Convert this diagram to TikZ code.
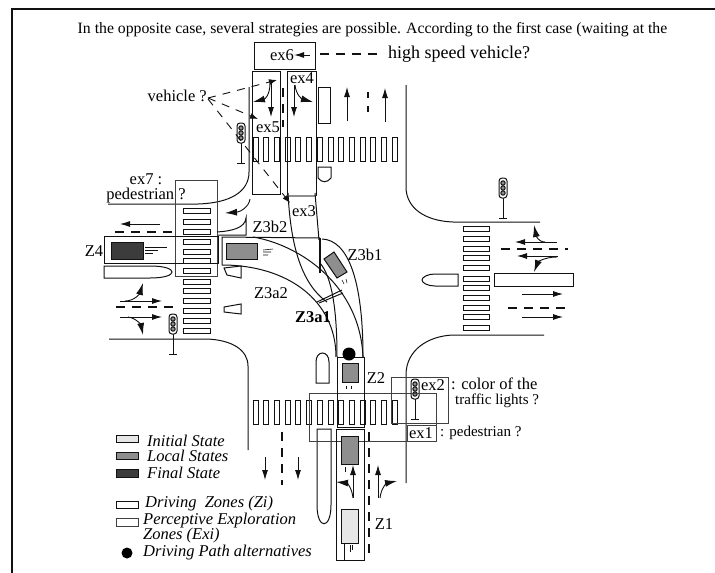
\documentclass[tikz,border=0pt]{standalone}
\usepackage{fontspec}
\setmainfont{Liberation Serif}
\usetikzlibrary{positioning,arrows.meta,calc}
\definecolor{inkgrey}{HTML}{111111}
\definecolor{finalgrey}{HTML}{3C3C3C}
\definecolor{localgrey}{HTML}{8E8E8E}
\definecolor{initgrey}{HTML}{E6E6E6}
\tikzset{
  road/.style={inkgrey, line width=1pt},
  zone/.style={inkgrey, line width=1pt},
  expl/.style={inkgrey!80, line width=0.9pt},
  lane/.style={inkgrey, line width=1.1pt, dash pattern=on 9pt off 7pt},
  move/.style={inkgrey, line width=0.9pt, -{Latex[length=10pt,width=6pt]}},
  turn/.style={inkgrey, line width=0.9pt, -{Latex[length=12pt,width=7pt]}},
  look/.style={inkgrey, line width=0.9pt, dash pattern=on 8pt off 7pt, -{Latex[length=8pt,width=6pt]}},
  stripe/.style={inkgrey, line width=0.8pt, fill=white},
  lbl/.style={font=\fontsize{16.5}{18}\selectfont, inner sep=0pt},
  leg/.style={font=\fontsize{16.5}{18}\selectfont\itshape, inner sep=0pt, anchor=west},
}
\newcommand{\signal}[2]{% traffic light with pole, foot at #2
  \draw[zone] (#1,#2) -- ++(0,-20) (#1-4,#2) -- ++(8,0);
  \draw[zone, fill=white, rounded corners=3pt] (#1-4,#2-40) rectangle (#1+4,#2-20);
  \foreach \k in {-35,-30,-25} \draw[zone, fill=localgrey] (#1,#2+\k) circle (2.2pt);
}
\begin{document}
\begin{tikzpicture}[x=1pt,y=-1pt]
  \useasboundingbox (0,0) rectangle (715,573);
  % page frame
  \draw[line width=1.2pt, inkgrey] (12,573) -- (12,9) -- (715,9);
  \node[lbl, font=\fontsize{15.75}{18}\selectfont] (intro) at (372.5,30) {In the opposite case, several strategies are possible. According to the first case (waiting at the};

  % kerbs
  \draw[road] (108,204) -- (198,204) .. controls (230,203) and (249,192) .. (249,172) -- (249,87);
  \draw[road] (406,85) -- (406,187) .. controls (406,208) and (425,221) .. (453,222) -- (540,222);
  \draw[road] (109,339) -- (207,339) .. controls (232,340) and (248,350) .. (248,366) -- (248,450);
  \draw[road] (544,335) -- (453,335) .. controls (428,336) and (406,350) .. (406,375) -- (406,483);

  % crossings
  \foreach \i in {0,...,13} {
    \draw[stripe] ({253+10.7*\i},137) rectangle ++(5,24);
    \draw[stripe] ({253+10.7*\i},400) rectangle ++(5,24);
  }
  \foreach \y in {211,222,232,242,252,261,271,282,291,301,311,321,331}
    \draw[stripe] (183,\y-2.5) rectangle (210,\y+2.5);
  \foreach \y in {229,239,249,258,268,279,288,298,308,317,328}
    \draw[stripe] (463,\y-2.5) rectangle (489,\y+2.5);

  % medians and parked shapes
  \draw[zone] (318,87) rectangle (330,123);
  \draw[zone] (318,167) -- (318,178) .. controls (322,183) and (327,183) .. (331,178) -- (331,167) -- cycle;
  \draw[zone] (104,266) -- (150,266) .. controls (165,266) and (172,269) .. (172,272) .. controls (172,275) and (165,278) .. (150,278) -- (104,278) -- cycle;
  \draw[zone] (458,274) -- (435,274) .. controls (428,274) and (422,277) .. (422,280) .. controls (422,283) and (428,286) .. (435,286) -- (458,286) -- cycle;
  \draw[zone] (494,273) rectangle (573,286);
  \draw[zone] (224,268) -- (241,266) -- (241,278) -- (227,275) -- cycle;
  \draw[zone] (224,307) -- (241,304) -- (241,314) -- (224,312) -- cycle;
  \draw[zone] (316,383) -- (316,362) .. controls (316,350) and (329,350) .. (329,362) -- (329,383) -- cycle;
  \draw[zone] (317,429) -- (331,429) -- (331,505) .. controls (331,530) and (317,530) .. (317,505) -- cycle;

  % lane marks
  \draw[lane] (283,88) -- (283,127);
  \draw[lane, dash pattern=on 6pt off 8pt] (368,92) -- (368,112);
  \draw[lane] (115,232) -- (175,232);
  \draw[lane] (116,307) -- (175,307);
  \draw[lane] (501,249) -- (568,249);
  \draw[lane] (508,308) -- (567,308);
  \draw[lane] (282,432) -- (282,485);
  \draw[lane] (369,432) -- (369,555);

  % traffic arrows
  \draw[move] (271,83) -- (271,117);
  \draw[turn] (270,83) .. controls (270,95) and (265,99) .. (253,102);
  \draw[move] (294,85) -- (294,117);
  \draw[turn] (295,85) .. controls (296,95) and (302,99) .. (313,102);
  \draw[move] (347,121) -- (347,87);
  \draw[move] (385,122) -- (385,88);
  \draw[turn] (250,199) .. controls (249,207) and (240,212) .. (225,213);
  \draw[move] (160,224) -- (120,224);
  \draw[move] (120,301) -- (162,301);
  \draw[turn] (125,301) .. controls (135,301) and (140,293) .. (143,283);
  \draw[move] (120,317) -- (162,317);
  \draw[turn] (128,317) .. controls (136,318) and (141,325) .. (143,335);
  \draw[move] (557,242) -- (515,242);
  \draw[turn] (545,242) .. controls (538,242) and (536,235) .. (534,225);
  \draw[move] (558,256) -- (517,256);
  \draw[turn] (557,257) .. controls (545,257) and (538,262) .. (534,272);
  \draw[move] (522,294) -- (563,294);
  \draw[move] (522,317) -- (563,317);
  \draw[move] (265,457) -- (265,480);
  \draw[move] (298,457) -- (298,480);
  \draw[move] (353,498) -- (353,465);
  \draw[turn] (353,498) .. controls (352,488) and (347,483) .. (336,482);
  \draw[move] (378,498) -- (378,465);
  \draw[turn] (380,498) .. controls (381,488) and (387,483) .. (397,481);

  % traffic lights
  \signal{241}{163}
  \signal{173}{354}
  \signal{503}{218}
  \signal{415}{419}

  % perceptive exploration zones
  \draw[zone] (254,42) rectangle (315,69);
  \draw[zone] (252,71) rectangle (280,194);
  \draw[zone] (287,71) rectangle (316,195);
  \draw[localgrey, line width=1.6pt] (287,196) -- (316,196);
  \draw[expl] (175,276) -- (175,180) -- (217,180) -- (217,276) -- cycle;
  \draw[expl] (391,423) -- (391,377) -- (448,377) -- (448,423) -- cycle;
  \draw[expl] (309,393) rectangle (436,441);
  \draw[expl] (407,425) rectangle (436,441);

  % driving zones
  \draw[zone] (104,236) rectangle (218,263);
  \draw[zone] (222,265) -- (222,237) -- (320,238);
  \draw[zone, line width=1.5pt] (320,238) -- (320,273);
  \draw[zone] (222,265) .. controls (287,265) and (336,300) .. (336,357);
  \draw[zone] (253,237) .. controls (300,245) and (360,285) .. (363,357);
  \draw[zone] (322,239) .. controls (348,240) and (363,280) .. (363,357);
  \draw[zone] (320,263) .. controls (332,277) and (337,310) .. (337,357);
  \draw[zone] (288,193) .. controls (290,230) and (296,280) .. (327,302);
  \draw[zone] (315,193) -- (319,240);
  \draw[zone] (317,302) -- (342,290) (319,303) -- (343,293);
  \draw[zone] (217,232) .. controls (232,231) and (245,228) .. (246,218) -- (246,235) -- (218,235);
  \draw[zone] (337,427) rectangle (364,357);
  \draw[zone] (336,429) rectangle (364,560);
  \draw[zone] (344,543) -- (344,560);

  % vehicle states
  \draw[zone, fill=finalgrey] (111,242) rectangle (143,259);
  \draw[inkgrey, line width=0.6pt] (145,247) -- (167,247) (145,250) -- (158,250) (145,253) -- (153,253);
  \draw[zone, fill=localgrey] (226,243) rectangle (257,259);
  \draw[inkgrey, line width=0.6pt] (263,250) -- (273,249) (263,252) -- (271,252) (263,255) -- (268,255);
  \draw[zone, fill=localgrey] (324,259) -- (334,252) -- (347,272) -- (337,278) -- cycle;
  \draw[inkgrey, line width=0.6pt] (342,280) -- (344,284) (346,279) -- (347,283);
  \draw[zone, fill=localgrey] (342,363) rectangle (358,382);
  \draw[inkgrey, line width=0.6pt] (346,386) -- (346,389) (351,386) -- (351,389);
  \draw[zone, fill=localgrey] (341,436) rectangle (358,464);
  \draw[inkgrey, line width=0.6pt] (345,467) -- (345,472);
  \draw[zone, fill=initgrey] (341,509) rectangle (358,543);
  \draw[inkgrey, line width=0.6pt] (350,545) -- (350,552) (352,545) -- (352,550);
  \fill[black] (349,354) circle (6.5pt);

  % zone labels
  \node[lbl] (zex6) at (282,55) {ex6};
  \node[lbl] (zex4) at (302,78) {ex4};
  \node[lbl] (zex5) at (268,127) {ex5};
  \node[lbl] (zex3) at (304,211) {ex3};
  \node[lbl] (zex2) at (433,385) {ex2};
  \node[lbl] (zex1) at (421,433) {ex1};
  \node[lbl] (zz4) at (94,251) {Z4};
  \node[lbl] (zz3b2) at (270,227) {Z3b2};
  \node[lbl] (zz3b1) at (365,255) {Z3b1};
  \node[lbl] (zz3a2) at (271,293) {Z3a2};
  \node[lbl, font=\fontsize{16.5}{18}\selectfont\bfseries] (zz3a1) at (313,317) {Z3a1};
  \node[lbl] (zz2) at (376,378) {Z2};
  \node[lbl] (zz1) at (384,524) {Z1};

  % questions asked of each zone
  \node[lbl, anchor=west, font=\fontsize{18}{20}\selectfont] (qspeed) at (388,54) {high speed vehicle?};
  \node[lbl, anchor=east] (qveh) at (207,96) {vehicle ?};
  \node[lbl] (qsev) at (146,179) {ex7 :};
  \node[lbl] (qped) at (146,196) {pedestrian ?};
  \node[lbl, anchor=west] (qcol) at (451,384) {: color of the};
  \node[lbl, anchor=west, font=\fontsize{15}{17}\selectfont] (qlig) at (455,401) {traffic lights ?};
  \node[lbl, anchor=west, font=\fontsize{15}{17}\selectfont] (qpedb) at (440,433) {: pedestrian ?};
  \coordinate (ex6edge) at (317,54);
  \coordinate (ex6tip) at (310,55);
  \draw[lane] (qspeed.west) ++(-11,0) -- (ex6edge);
  \draw[move] (ex6tip) -- (zex6.east);
  \draw[look] (qveh.east) ++(1,2) -- (277,80);
  \draw[look] (qveh.east) ++(1,2) -- (258,119);
  \draw[look] (qveh.east) ++(1,3) -- (290,203);

  % legend
  \draw[zone, fill=initgrey] (116,435) rectangle (138,442);
  \node[leg] (linit) at (147,441) {Initial State};
  \draw[zone, fill=localgrey] (116,452) rectangle (138,459);
  \node[leg] (lloc) at (147,456) {Local States};
  \draw[zone, fill=finalgrey] (116,469) rectangle (138,477);
  \node[leg] (lfin) at (147,473) {Final State};
  \draw[zone] (116,501) rectangle (138,508);
  \node[leg] (ldrv) at (145,504) {Driving~~Zones (Zi)};
  \draw[expl] (116,518) rectangle (138,526);
  \node[leg] (lper) at (143,521) {Perceptive Exploration};
  \node[leg] (lexi) at (143,536) {Zones (Exi)};
  \fill[black] (127,553) circle (5.5pt);
  \node[leg] (lalt) at (143,553) {Driving Path alternatives};
\end{tikzpicture}
\end{document}
